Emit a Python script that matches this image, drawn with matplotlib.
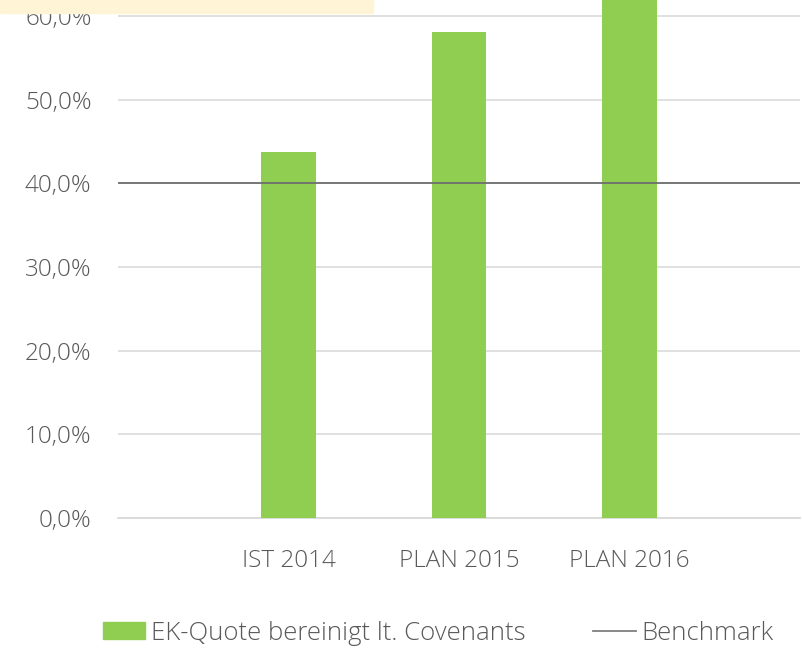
import matplotlib.pyplot as plt
import matplotlib.patches as mpatches
from matplotlib.lines import Line2D
from matplotlib.ticker import FuncFormatter

categories = ['IST 2014', 'PLAN 2015', 'PLAN 2016']
ek_quote = [43.7, 58.1, 64.5]
benchmark = 40.0
y_ticks = [0, 10, 20, 30, 40, 50, 60]

plt.rcParams['font.family'] = ['Open Sans', 'DejaVu Sans']
plt.rcParams['font.weight'] = 'light'
grey = '#595959'
green = '#8FCE50'

fig = plt.figure(figsize=(8.03, 6.5), dpi=100)
ax = fig.add_axes([118 / 803, 132 / 650, 682 / 803, 518 / 650])

x = list(range(len(categories)))
ax.bar(x, ek_quote, width=0.32, color=green, zorder=3)
ax.axhline(benchmark, color='#6E6E6E', lw=1.3, zorder=4)

ax.set_xlim(-1.0, 3.0)
ax.set_ylim(0, 61.9)
ax.set_yticks(y_ticks)
ax.yaxis.set_major_formatter(FuncFormatter(lambda v, p: f'{v:.1f}%'.replace('.', ',')))
ax.set_xticks(x)
ax.set_xticklabels(categories)

ax.grid(axis='y', color='#DDDDDD', lw=1.3, zorder=0)
for s in ['top', 'right', 'left']:
    ax.spines[s].set_visible(False)
ax.spines['bottom'].set_color('#D9D9D9')
ax.spines['bottom'].set_linewidth(1.3)
ax.tick_params(axis='both', length=0, labelsize=17.5, labelcolor=grey)
ax.tick_params(axis='y', pad=19)
ax.tick_params(axis='x', pad=22)

# yellow strip at top left
fig.patches.append(mpatches.Rectangle((0, 1 - 13 / 650), 373 / 803, 13 / 650,
                                      transform=fig.transFigure, color='#FFF4D5', zorder=10))

handles = [mpatches.Patch(color=green), Line2D([], [], color='#7F7F7F', lw=1.3)]
labels = ['EK-Quote bereinigt lt. Covenants', 'Benchmark']
leg = fig.legend(handles, labels, loc='center', bbox_to_anchor=(438 / 803, 1 - 633 / 650),
                 ncol=2, frameon=False, fontsize=18.5, labelcolor=grey,
                 handlelength=1.67, handleheight=0.66, handletextpad=0.2, columnspacing=2.65)

fig.savefig('out.png', dpi=100)
